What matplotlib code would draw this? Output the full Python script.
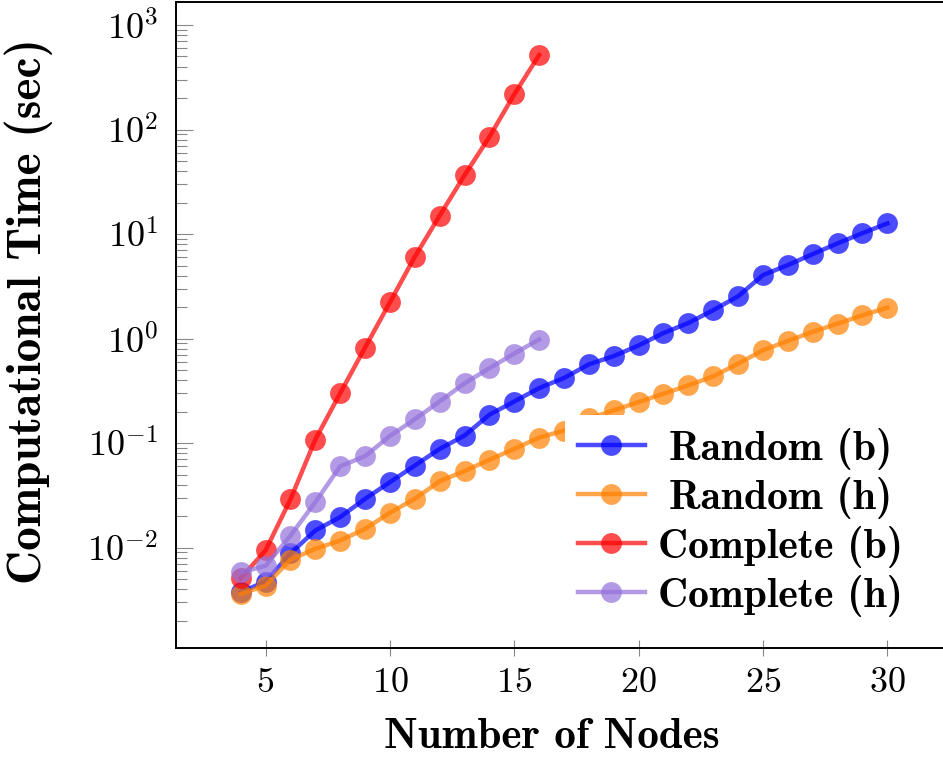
"""Computational time vs. number of nodes for random and complete graphs."""

import matplotlib
import numpy as np

matplotlib.use("Agg")
import matplotlib.pyplot as plt
from matplotlib.ticker import FixedLocator, FuncFormatter, LogLocator, NullFormatter

plt.rcParams["mathtext.fontset"] = "cm"

# Random graphs were run up to 30 nodes, complete graphs up to 16
RANDOM_NODES = list(range(4, 31))
COMPLETE_NODES = list(range(4, 17))

RANDOM_B = [0.00375, 0.00474, 0.0088, 0.0146, 0.0196, 0.0293, 0.0423, 0.061, 0.088,
            0.118, 0.187, 0.25, 0.336, 0.42, 0.567, 0.68, 0.86, 1.13, 1.41, 1.87,
            2.54, 4.05, 5.05, 6.43, 8.15, 10.2, 12.65]
RANDOM_H = [0.00361, 0.00434, 0.00767, 0.00974, 0.0117, 0.0151, 0.0216, 0.0293, 0.0432,
            0.054, 0.0693, 0.088, 0.113, 0.132, 0.172, 0.206, 0.247, 0.297, 0.357,
            0.435, 0.576, 0.773, 0.95, 1.16, 1.39, 1.67, 1.98]
COMPLETE_B = [0.0051, 0.0094, 0.0289, 0.108, 0.30, 0.82, 2.22, 6.06, 15.0, 36.5, 85.0,
              217.0, 516.0]
COMPLETE_H = [0.0058, 0.0067, 0.0130, 0.0272, 0.060, 0.075, 0.117, 0.169, 0.25, 0.373,
              0.52, 0.72, 0.98]

SERIES = [
    ("Random (b)", RANDOM_NODES, RANDOM_B, "#0000ff"),
    ("Random (h)", RANDOM_NODES, RANDOM_H, "#ff8000"),
    ("Complete (b)", COMPLETE_NODES, COMPLETE_B, "#ff0000"),
    ("Complete (h)", COMPLETE_NODES, COMPLETE_H, "#9370db"),
]
X_TICKS = [5, 10, 15, 20, 25, 30]
Y_TICKS = [1e-2, 1e-1, 1e0, 1e1, 1e2, 1e3]

BOLD = "cmb10"


def main():
    fig = plt.figure(figsize=(9.43, 7.59), dpi=100)
    ax = fig.add_axes([176 / 943, 111 / 759, 776 / 943, 646 / 759])

    for label, xs, ys, color in SERIES:
        ax.plot(xs, ys, "-o", color=color, alpha=0.7, lw=3.2, ms=15, mew=0, label=label)

    ax.set_yscale("log")
    ax.set_xlim(1.4, 32.6)
    ax.set_ylim(10 ** -2.96, 10 ** 3.22)

    ax.xaxis.set_major_locator(FixedLocator(X_TICKS))
    ax.xaxis.set_major_formatter(FuncFormatter(lambda v, _: f"${v:.0f}$"))
    ax.yaxis.set_major_locator(FixedLocator(Y_TICKS))
    ax.yaxis.set_minor_locator(LogLocator(base=10, subs=np.arange(2, 10), numticks=20))
    ax.yaxis.set_major_formatter(
        FuncFormatter(lambda v, _: rf"$10^{{{int(round(np.log10(v)))}}}$")
    )
    ax.yaxis.set_minor_formatter(NullFormatter())

    ax.tick_params(axis="x", which="major", direction="inout", length=12, width=0.8,
                   color="#888888", labelsize=26, pad=6, top=False)
    ax.tick_params(axis="y", which="major", direction="in", length=12, width=0.8,
                   color="#888888", labelsize=26, pad=13, right=False)
    ax.tick_params(axis="y", which="minor", direction="in", length=8, width=0.8,
                   color="#888888", right=False)
    for spine in ax.spines.values():
        spine.set_linewidth(1.4)

    ax.set_xlabel("Number of Nodes", fontfamily=BOLD, fontsize=31)
    ax.set_ylabel("Computational Time (sec)", fontfamily=BOLD, fontsize=34)
    ax.xaxis.set_label_coords(0.4845, -0.108)
    ax.yaxis.set_label_coords(-0.158, 0.522)

    leg = ax.legend(
        loc="upper left",
        bbox_to_anchor=(565 / 943, 1 - 415 / 759),
        bbox_transform=fig.transFigure,
        prop={"family": BOLD, "size": 30},
        frameon=True,
        fancybox=False,
        framealpha=1,
        facecolor="white",
        edgecolor="none",
        borderaxespad=0,
        borderpad=0.3,
        handlelength=1.63,
        handletextpad=0.3,
        labelspacing=0.17,
    )
    leg.set_zorder(5)

    # centre the shorter legend entries within the label column
    renderer = fig.canvas.get_renderer()
    widths = [t.get_window_extent(renderer).width for t in leg.get_texts()]
    for t, w in zip(leg.get_texts(), widths):
        t.set_x((max(widths) - w) / 2)

    fig.savefig("out.png", dpi=100)
    plt.close(fig)


if __name__ == "__main__":
    main()
